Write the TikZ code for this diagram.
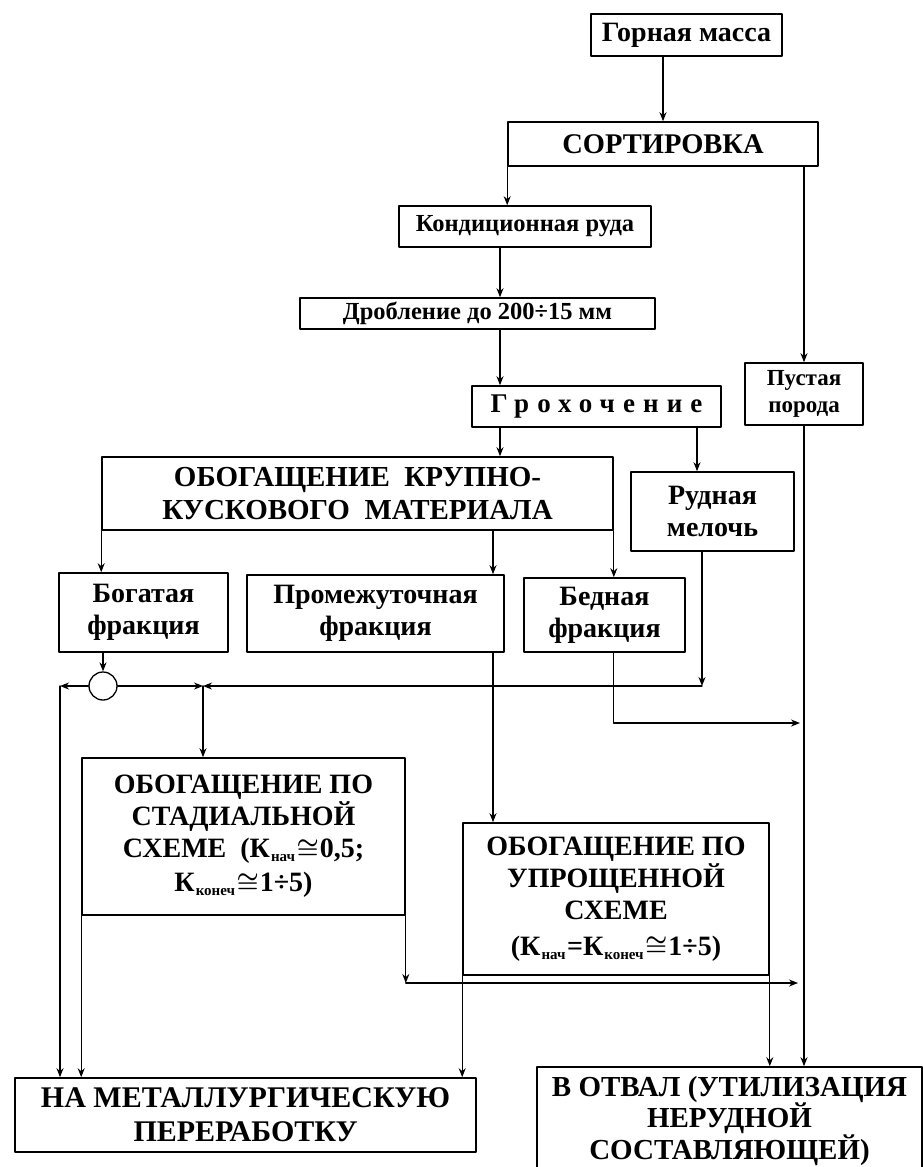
\documentclass[tikz,border=0pt]{standalone}
\usepackage{fontspec}
\setmainfont{Liberation Serif}
\usetikzlibrary{arrows.meta}

\newcommand{\fs}[2]{\fontsize{#1}{#2}\selectfont}
\newcommand{\Kind}[1]{К\kern1pt\raisebox{-0.3ex}{\fs{15}{15}#1}\kern1.5pt}
\newcommand{\appr}{{\boldmath$\cong$}\kern1pt}

\tikzset{
  blk/.style={draw,line width=1.6pt,inner sep=0pt,align=center,font=\bfseries},
  flow/.style={line width=1.3pt,-{Stealth[length=9pt,width=7pt]}},
}

\begin{document}
\begin{tikzpicture}[x=1pt,y=-1pt,line cap=round,line join=round]
  \useasboundingbox (0,0) rectangle (922,1167);
  % upper chain
  \node[blk,minimum width=191,minimum height=42,font=\bfseries\fs{28}{30}] (gorn) at (686.5,35) {Горная масса};
  \node[blk,minimum width=310,minimum height=44,font=\bfseries\fs{28.5}{30}] (sort) at (663,144) {СОРТИРОВКА};
  \node[blk,minimum width=252,minimum height=41,font=\bfseries\fs{24.5}{28}] (kond) at (525,226.5) {Кондиционная руда};
  \node[blk,minimum width=355,minimum height=31,font=\bfseries\fs{24.5}{26}] (drob) at (477.5,313.5) {Дробление до 200÷15 мм};
  \node[blk,minimum width=249,minimum height=41,font=\bfseries\fs{27}{30}\addfontfeature{LetterSpace=30}] (groh) at (596.5,406.5) {Грохочение};
  \node[blk,minimum width=118,minimum height=62,font=\bfseries\fs{23}{27}] (pust) at (804,394) {Пустая\\порода};
  % coarse beneficiation
  \node[blk,minimum width=511,minimum height=73,font=\bfseries\fs{29}{33}] (krup) at (357.5,493.5) {ОБОГАЩЕНИЕ\ \ КРУПНО-\\КУСКОВОГО\ \ МАТЕРИАЛА};
  \node[blk,minimum width=163,minimum height=79,font=\bfseries\fs{28}{32}] (rudn) at (712.5,511.5) {Рудная\\мелочь};
  \node[blk,minimum width=169,minimum height=79,font=\bfseries\fs{28}{32}] (bog) at (143.5,612.5) {Богатая\\фракция};
  \node[blk,minimum width=257,minimum height=77,font=\bfseries\fs{28}{32}] (prom) at (375.5,613.5) {Промежуточная\\фракция};
  \node[blk,minimum width=161,minimum height=74,font=\bfseries\fs{28}{32}] (bed) at (604.5,615) {Бедная\\фракция};
  \node[draw,circle,line width=1.3pt,minimum size=28,inner sep=0pt] (mix) at (103,686) {};
  % schemes
  \node[blk,minimum width=323,minimum height=157,font=\bfseries\fs{28}{32}] (stad) at (243.5,836.5)
    {ОБОГАЩЕНИЕ ПО\\СТАДИАЛЬНОЙ\\СХЕМЕ\ \ (\Kind{нач}\appr0,5;\\[2pt]\Kind{конеч}\appr1÷5)};
  \node[blk,minimum width=306,minimum height=152,font=\bfseries\fs{28}{32}] (upr) at (616,899)
    {ОБОГАЩЕНИЕ ПО\\УПРОЩЕННОЙ\\СХЕМЕ\\[4pt](\Kind{нач}=\Kind{конеч}\appr1÷5)};
  % outputs
  \node[blk,minimum width=461,minimum height=74,font=\bfseries\fs{30}{34}] (met) at (245.5,1115) {НА МЕТАЛЛУРГИЧЕСКУЮ\\ПЕРЕРАБОТКУ};
  \node[blk,minimum width=385,minimum height=108,font=\bfseries\fs{29}{29}] (otv) at (729.5,1121) {В ОТВАЛ (УТИЛИЗАЦИЯ\\НЕРУДНОЙ\\СОСТАВЛЯЮЩЕЙ)};
  % helper points
  \coordinate (xmain) at (500,0);
  \coordinate (xfine) at (697,0);
  \coordinate (xprom) at (493,0);
  \coordinate (cl) at (60,686);
  \coordinate (jn) at (203,686);
  \coordinate (rj) at (702,686);
  \coordinate (cbed) at (800,723);
  \coordinate (cst) at (798,983);
  % connectors
  \draw[flow] (gorn.south -| sort.north) -- (sort.north);
  \draw[flow] (sort.south west) -- (sort.south west |- kond.north);
  \draw[flow] (sort.south -| pust.north) -- (pust.north);
  \draw[flow] (kond.south -| xmain) -- (drob.north -| xmain);
  \draw[flow] (drob.south -| xmain) -- (groh.north -| xmain);
  \draw[flow] (groh.south -| xmain) -- (krup.north -| xmain);
  \draw[flow] (groh.south -| xfine) -- (rudn.north -| xfine);
  \draw[flow] (pust.south) -- (pust.south |- otv.north);
  \draw[flow] (krup.south west) -- (krup.south west |- bog.north);
  \draw[flow] (krup.south -| xprom) -- (prom.north -| xprom);
  \draw[flow] (krup.south east) -- (krup.south east |- bed.north);
  \draw[flow] (bog.south -| mix) -- (mix.north);
  \draw[flow] (mix.west) -- (cl);
  \draw[flow] (cl) -- (cl |- met.north);
  \draw[flow] (mix.east) -- (jn);
  \draw[flow] (rudn.south -| rj) -- (rj);
  \draw[flow] (rj) -- (jn);
  \draw[flow] (jn) -- (jn |- stad.north);
  \draw[flow] (bed.south -| krup.south east) |- (cbed);
  \draw[flow] (prom.south -| xprom) -- (upr.north -| xprom);
  \draw[flow] (stad.south west) -- (stad.south west |- met.north);
  \draw[flow] (stad.south east) -- (stad.south east |- cst);
  \draw[flow] (stad.south east |- cst) -- (cst);
  \draw[flow] (upr.south west) -- (upr.south west |- met.north);
  \draw[flow] (upr.south east) -- (upr.south east |- otv.north);
\end{tikzpicture}
\end{document}
